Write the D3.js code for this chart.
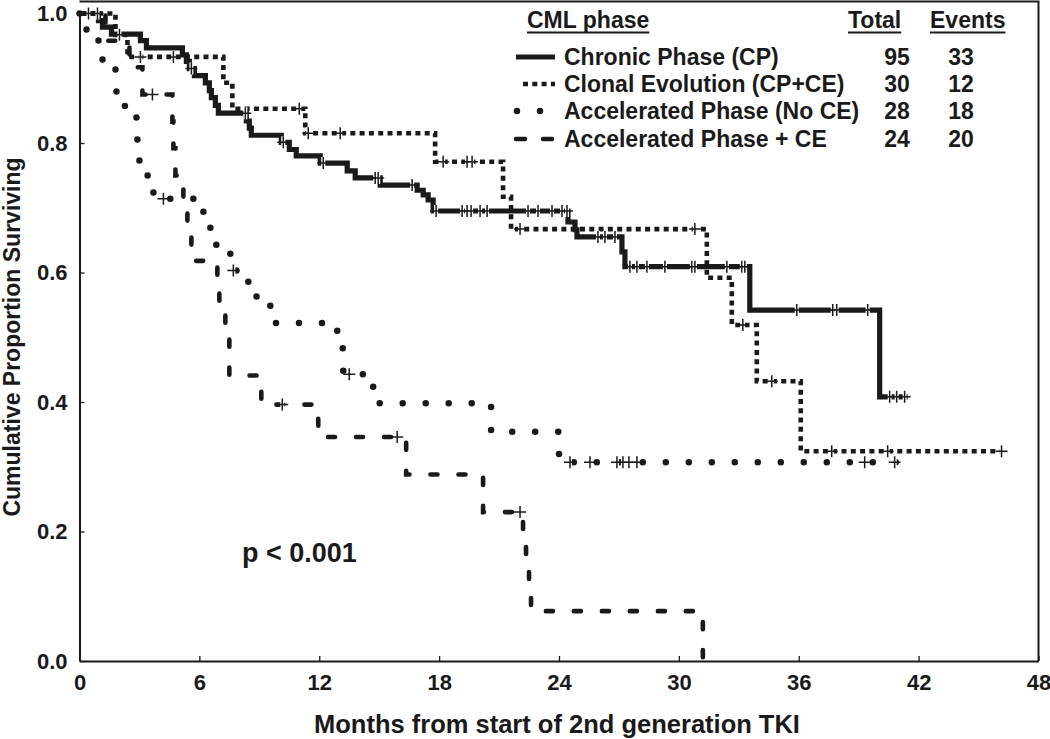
<!DOCTYPE html>
<html>
<head>
<meta charset="utf-8">
<script src="https://cdn.jsdelivr.net/npm/d3@7"></script>
<style>
  body { margin: 0; background: #fff; }
  svg text { font-family: "Liberation Sans", Arial, sans-serif; font-weight: bold; fill: #1a1a1a; }
</style>
</head>
<body>
<svg id="chart" width="1050" height="739"></svg>
<script>
// ---- data ----
const xTicks = [0, 6, 12, 18, 24, 30, 36, 42, 48];
const yTicks = [0, 0.2, 0.4, 0.6, 0.8, 1.0];

const groupNames = ["Chronic Phase (CP)", "Clonal Evolution (CP+CE)", "Accelerated Phase (No CE)", "Accelerated Phase + CE"];
const groupTotals = [95, 30, 28, 24];
const groupEvents = [33, 12, 18, 20];

// [month, survival after the drop]
const cpSteps = [
  [0.95, 0.989], [1.15, 0.979], [1.6, 0.968], [3.05, 0.958], [3.35, 0.947],
  [5.15, 0.936], [5.35, 0.926], [5.5, 0.915], [5.75, 0.904],
  [6.3, 0.893], [6.5, 0.881], [6.6, 0.870], [6.8, 0.858], [6.95, 0.846],
  [8.35, 0.834], [8.5, 0.823], [8.6, 0.812],
  [10.1, 0.801], [10.5, 0.790], [10.85, 0.780], [12.05, 0.769],
  [13.4, 0.757], [13.8, 0.746], [15.05, 0.735],
  [16.9, 0.727], [17.2, 0.720], [17.45, 0.712], [17.7, 0.695],
  [24.45, 0.678], [24.8, 0.666], [24.9, 0.655],
  [27.15, 0.632], [27.3, 0.609], [33.55, 0.542], [40.05, 0.408]
];
const cpCensor = [0.45, 0.9, 5.6, 8.3, 10.2, 12.2, 14.8, 14.95, 16.65, 17.85, 19.15, 19.4, 19.6, 20.05, 20.4,
  22.45, 22.95, 23.65, 24.15, 24.4, 25.95, 26.3, 26.8, 27.55, 27.9, 28.4, 29.3, 30.65, 30.8, 32.4, 33.15, 33.3,
  35.9, 37.7, 37.9, 39.45, 40.55, 40.9, 41.3];
const cpEnd = 41.45;

const ceSteps = [
  [1.8, 0.967], [2.4, 0.933], [7.2, 0.893], [7.65, 0.853], [11.3, 0.815], [17.8, 0.771],
  [21.2, 0.717], [21.6, 0.667], [31.4, 0.592], [32.65, 0.519], [33.9, 0.432], [36.1, 0.324]
];
const ceCensor = [2.0, 3.05, 4.7, 11.0, 11.45, 13.05, 18.2, 19.4, 19.65, 22.05, 30.8, 33.2, 34.65, 37.65, 40.45, 46.15];
const ceEnd = 46.15;

const apSteps = [
  [0.35, 0.964], [0.95, 0.929], [1.8, 0.893], [1.85, 0.857], [2.85, 0.821], [2.9, 0.786], [3.0, 0.750],
  [3.7, 0.714], [6.2, 0.678], [6.55, 0.643], [7.55, 0.603], [8.45, 0.563], [9.55, 0.522],
  [12.9, 0.483], [13.2, 0.443], [14.7, 0.398], [20.6, 0.354], [24.0, 0.307]
];
const apCensor = [4.2, 7.7, 13.5, 24.55, 25.55, 26.9, 27.2, 27.5, 27.9, 39.3, 40.8];
const apEnd = 40.9;

const apceSteps = [
  [1.3, 0.958], [2.5, 0.917], [3.15, 0.875], [4.65, 0.833], [4.7, 0.792], [4.8, 0.750],
  [5.2, 0.708], [5.4, 0.667], [5.6, 0.618], [6.9, 0.585], [7.0, 0.545], [7.3, 0.500], [7.5, 0.441],
  [9.1, 0.396], [11.95, 0.346], [16.35, 0.288], [20.2, 0.230],
  [22.2, 0.192], [22.35, 0.154], [22.5, 0.115], [22.6, 0.077], [31.2, 0]
];
const apceCensor = [3.65, 10.15, 15.9, 22.05];
const apceEnd = 31.2;

const stepSets = [cpSteps, ceSteps, apSteps, apceSteps];
const censorSets = [cpCensor, ceCensor, apCensor, apceCensor];
const endTimes = [cpEnd, ceEnd, apEnd, apceEnd];

// ---- styles ----
const ink = "#1a1a1a";
const lineStyles = [
  { width: 5.2, dash: null, cap: "butt" },
  { width: 4.6, dash: "5,4.3", cap: "butt" },
  { width: 6.5, dash: "0,23", cap: "round" },
  { width: 4.6, dash: "7,21", cap: "round" }
];

const svg = d3.select("#chart");
const x = d3.scaleLinear().domain([0, 48]).range([79.5, 1038.5]);
const y = d3.scaleLinear().domain([0, 1]).range([661, 13.5]);

// frame (top and right)
svg.append("path")
  .attr("d", `M${x(0)},1.5H${x(48)}V${y(0)}`)
  .attr("fill", "none").attr("stroke", ink).attr("stroke-width", 2);

const xAxis = svg.append("g")
  .attr("transform", `translate(0,${y(0)})`)
  .call(d3.axisBottom(x).tickValues(xTicks).tickSizeInner(-5).tickSizeOuter(0).tickPadding(15));
const yAxis = svg.append("g")
  .attr("transform", `translate(${x(0)},0)`)
  .call(d3.axisLeft(y).tickValues(yTicks).tickSizeInner(-5).tickSizeOuter(0).tickPadding(12).tickFormat(d3.format(".1f")));

[xAxis, yAxis].forEach(g => {
  g.select(".domain").attr("stroke", ink).attr("stroke-width", 2);
  g.selectAll(".tick line").attr("stroke", ink).attr("stroke-width", 1.3);
  g.selectAll(".tick text").style("font-size", "22px").attr("fill", ink);
});
xAxis.selectAll(".tick text").attr("dy", "0.62em");

// axis titles
svg.append("text")
  .attr("x", 557).attr("y", 733)
  .attr("text-anchor", "middle")
  .style("font-size", "25.5px")
  .text("Months from start of 2nd generation TKI");

svg.append("text")
  .attr("transform", "translate(20,337) rotate(-90)")
  .attr("text-anchor", "middle")
  .style("font-size", "23px")
  .text("Cumulative Proportion Surviving");

svg.append("text")
  .attr("x", 242).attr("y", 562)
  .style("font-size", "27px")
  .text("p < 0.001");

// survival curves
function survAt(steps, t) {
  let s = 1;
  for (const [ti, si] of steps) {
    if (ti <= t) s = si; else break;
  }
  return s;
}

const line = d3.line()
  .x(d => x(d[0]))
  .y(d => y(d[1]))
  .curve(d3.curveStepAfter);

const curves = svg.append("g");
stepSets.forEach((steps, i) => {
  const pts = [[0, 1]].concat(steps, [[endTimes[i], steps[steps.length - 1][1]]]);
  const st = lineStyles[i];
  curves.append("path")
    .datum(pts)
    .attr("d", line)
    .attr("fill", "none")
    .attr("stroke", ink)
    .attr("stroke-width", st.width)
    .attr("stroke-linecap", st.cap)
    .attr("stroke-linejoin", "miter")
    .attr("stroke-dasharray", st.dash);
});

// censor marks
const marks = svg.append("g");
censorSets.forEach((times, i) => {
  times.forEach(t => {
    const cx = x(t), cy = y(survAt(stepSets[i], t));
    marks.append("path")
      .attr("d", `M${cx},${cy - 6}V${cy + 6}`)
      .attr("stroke", "#fff").attr("stroke-width", 4);
    marks.append("path")
      .attr("d", `M${cx - 6},${cy}H${cx + 6}M${cx},${cy - 6}V${cy + 6}`)
      .attr("stroke", ink).attr("stroke-width", 1.5).attr("fill", "none");
  });
});

// legend
const legend = svg.append("g");
const headers = [["CML phase", 527], ["Total", 848], ["Events", 930]];
headers.forEach(([label, hx]) => {
  const t = legend.append("text")
    .attr("x", hx).attr("y", 28)
    .style("font-size", "23px")
    .text(label);
  const w = t.node().getComputedTextLength();
  legend.append("line")
    .attr("x1", hx).attr("x2", hx + w)
    .attr("y1", 32.5).attr("y2", 32.5)
    .attr("stroke", ink).attr("stroke-width", 2);
});

const rowBase = [65, 92, 119, 147];
const sampleX = [[516, 555], [523, 555], [517, 555], [516, 555]];
groupNames.forEach((name, i) => {
  const st = lineStyles[i];
  const cy = rowBase[i] - 8;
  legend.append("line")
    .attr("x1", sampleX[i][0]).attr("x2", sampleX[i][1])
    .attr("y1", cy).attr("y2", cy)
    .attr("stroke", ink)
    .attr("stroke-width", st.width)
    .attr("stroke-linecap", st.cap)
    .attr("stroke-dasharray", i === 3 ? "9,18" : st.dash);
  legend.append("text")
    .attr("x", 564).attr("y", rowBase[i])
    .style("font-size", "23px")
    .text(name);
  legend.append("text")
    .attr("x", 897).attr("y", rowBase[i])
    .attr("text-anchor", "middle")
    .style("font-size", "23px")
    .text(groupTotals[i]);
  legend.append("text")
    .attr("x", 961).attr("y", rowBase[i])
    .attr("text-anchor", "middle")
    .style("font-size", "23px")
    .text(groupEvents[i]);
});
</script>
</body>
</html>
